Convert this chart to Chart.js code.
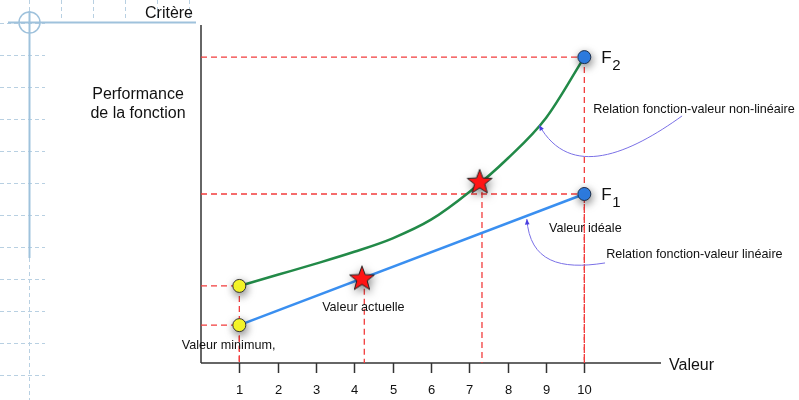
<!doctype html>
<html lang="fr">
<head>
  <meta charset="utf-8">
  <title>Performance de la fonction</title>
  <script src="https://cdn.jsdelivr.net/npm/chart.js"></script>
  <style>
    html, body { margin: 0; padding: 0; background: #fff; }
    #wrap { width: 799px; height: 400px; position: relative; }
  </style>
</head>
<body>
  <div id="wrap"><canvas id="chart" width="799" height="400"></canvas></div>
  <script>
    // --- data (y in arbitrary "performance" units 0..100) ---
    const xTicks = [1, 2, 3, 4, 5, 6, 7, 8, 9, 10];
    const greenX = [1, 2, 3, 4, 5, 6, 7, 8, 9, 10];
    const greenY = [22.8, 26.1, 29.4, 32.9, 36.9, 42.4, 50.6, 60.5, 72.5, 90.5];
    const blueX = [1, 10];
    const blueY = [11.2, 50];
    const minX = [1, 1];
    const minY = [22.8, 11.2];
    const idealX = [10, 10];
    const idealY = [90.5, 50];
    const starX = [4.2, 7.27];
    const starY = [25.0, 53.6];

    const FONT = '"Liberation Sans", Arial, Helvetica, sans-serif';
    const RED = '#f23c3c';

    function pts(xs, ys) { return xs.map((x, i) => ({ x: x, y: ys[i] })); }

    // filled star used as point style
    function makeStar() {
      const c = document.createElement('canvas');
      c.width = 30; c.height = 30;
      const g = c.getContext('2d');
      g.beginPath();
      for (let i = 0; i < 10; i++) {
        const r = i % 2 === 0 ? 13 : 5.4;
        const a = -Math.PI / 2 + i * Math.PI / 5;
        g.lineTo(15 + r * Math.cos(a), 15.5 + r * Math.sin(a));
      }
      g.closePath();
      g.fillStyle = '#ff1414';
      g.fill();
      g.lineWidth = 1;
      g.strokeStyle = '#222';
      g.stroke();
      return c;
    }

    // dashed guide lines built from the key points
    const guides = [];
    idealX.forEach((x, i) => {
      guides.push([{ x: 0, y: idealY[i] }, { x: x, y: idealY[i] }]);
      guides.push([{ x: x, y: idealY[i] }, { x: x, y: 0 }]);
    });
    minX.forEach((x, i) => {
      guides.push([{ x: 0, y: minY[i] }, { x: x, y: minY[i] }]);
      guides.push([{ x: x, y: minY[i] }, { x: x, y: 0 }]);
    });
    starX.forEach((x, i) => {
      guides.push([{ x: x + 0.06, y: starY[i] - 3 }, { x: x + 0.06, y: 0 }]);
    });

    const datasets = [
      {
        data: pts(starX, starY), pointStyle: makeStar(), pointRadius: 13,
        showLine: false, order: 0, shadow: true
      },
      {
        data: pts(idealX, idealY), pointRadius: 6.5, pointBackgroundColor: '#2f80e8',
        pointBorderColor: '#1d2f4a', pointBorderWidth: 1, showLine: false, order: 1, shadow: true
      },
      {
        data: pts(minX, minY), pointRadius: 6.5, pointBackgroundColor: '#ffff2a',
        pointBorderColor: '#333', pointBorderWidth: 1, showLine: false, order: 1, shadow: true
      },
      {
        data: pts(greenX, greenY), showLine: true, borderColor: '#228a48', borderWidth: 2.5,
        pointRadius: 0, cubicInterpolationMode: 'monotone', order: 2
      },
      {
        data: pts(blueX, blueY), showLine: true, borderColor: '#3a8ff0', borderWidth: 2.5,
        pointRadius: 0, order: 2
      }
    ];
    guides.forEach(g => datasets.push({
      data: g, showLine: true, borderColor: RED, borderWidth: 1.3, borderDash: [6, 4],
      pointRadius: 0, order: 3
    }));

    const texts = [
      { t: 'Valeur minimum,', x: -0.5, y: 5.3 },
      { t: 'Valeur actuelle', x: 3.16, y: 16.3 },
      { t: 'Valeur idéale', x: 9.08, y: 39.9 },
      { t: 'Relation fonction-valeur linéaire', x: 10.57, y: 32.0 },
      { t: 'Relation fonction-valeur non-linéaire', x: 10.23, y: 75.1 }
    ];
    const arrows = [
      [[12.55, 73.1], [11.19, 62.0], [9.63, 54.0], [8.82, 70.4]],
      [[10.54, 29.6], [9.37, 27.5], [8.58, 29.9], [8.50, 42.6]]
    ];

    const shadowPlugin = {
      id: 'shadow',
      beforeDatasetDraw(chart, args) {
        const ctx = chart.ctx;
        ctx.save();
        if (args.meta._dataset.shadow) {
          ctx.shadowColor = 'rgba(0,0,0,0.5)';
          ctx.shadowBlur = 8;
          ctx.shadowOffsetX = 1;
          ctx.shadowOffsetY = 3;
        }
      },
      afterDatasetDraw(chart) { chart.ctx.restore(); }
    };

    const decoPlugin = {
      id: 'deco',
      beforeDatasetsDraw(chart) {
        const ctx = chart.ctx;
        const xs = chart.scales.x, ys = chart.scales.y;
        ctx.save();
        // blueprint-like guides on the left
        ctx.strokeStyle = '#b8d0e2';
        ctx.lineWidth = 1;
        ctx.setLineDash([4, 3]);
        for (let y = 23; y < 400; y += 32) {
          ctx.beginPath(); ctx.moveTo(0, y + 0.5); ctx.lineTo(45, y + 0.5); ctx.stroke();
        }
        for (let x = 29; x < 200; x += 32) {
          ctx.beginPath(); ctx.moveTo(x + 0.5, 0); ctx.lineTo(x + 0.5, 20); ctx.stroke();
        }
        ctx.beginPath(); ctx.moveTo(29.5, 258); ctx.lineTo(29.5, 400); ctx.stroke();
        ctx.setLineDash([]);
        ctx.strokeStyle = '#9fc2dc';
        ctx.lineWidth = 2;
        ctx.beginPath(); ctx.moveTo(8, 22.5); ctx.lineTo(196, 22.5); ctx.stroke();
        ctx.beginPath(); ctx.moveTo(29.5, 11); ctx.lineTo(29.5, 258); ctx.stroke();
        ctx.lineWidth = 1.5;
        ctx.beginPath(); ctx.arc(29.5, 22.5, 10.5, 0, Math.PI * 2); ctx.stroke();

        // axes
        ctx.strokeStyle = '#666';
        ctx.lineWidth = 2;
        ctx.beginPath(); ctx.moveTo(xs.left, ys.top); ctx.lineTo(xs.left, ys.bottom); ctx.stroke();
        ctx.strokeStyle = '#333';
        ctx.lineWidth = 1.5;
        ctx.beginPath(); ctx.moveTo(xs.left, ys.bottom); ctx.lineTo(xs.right, ys.bottom); ctx.stroke();
        ctx.fillStyle = '#111';
        ctx.font = '13px ' + FONT;
        ctx.textAlign = 'center';
        ctx.textBaseline = 'middle';
        xTicks.forEach(v => {
          const px = Math.round(xs.getPixelForValue(v)) + 0.5;
          ctx.beginPath(); ctx.moveTo(px, ys.bottom); ctx.lineTo(px, ys.bottom + 10); ctx.stroke();
          ctx.fillText(String(v), px, ys.bottom + 27);
        });
        ctx.restore();
      },
      afterDatasetsDraw(chart) {
        const ctx = chart.ctx;
        const xs = chart.scales.x, ys = chart.scales.y;
        const P = (a) => [xs.getPixelForValue(a[0]), ys.getPixelForValue(a[1])];
        ctx.save();
        ctx.fillStyle = '#111';
        ctx.textBaseline = 'middle';
        // axis titles
        ctx.font = '16px ' + FONT;
        ctx.textAlign = 'right';
        ctx.fillText('Critère', xs.left - 8, 14);
        ctx.textAlign = 'center';
        ctx.fillText('Performance', 138, 95);
        ctx.fillText('de la fonction', 138, 114);
        ctx.textAlign = 'left';
        ctx.fillText('Valeur', xs.right + 8, ys.bottom + 3);
        // F labels
        idealX.forEach((x, i) => {
          const px = xs.getPixelForValue(x) + 17, py = ys.getPixelForValue(idealY[i]) + 1;
          ctx.font = '17px ' + FONT;
          ctx.fillText('F', px, py);
          ctx.font = '15px ' + FONT;
          ctx.fillText(String(i === 0 ? 2 : 1), px + 11, py + 8);
        });
        // annotations
        ctx.font = '12.6px ' + FONT;
        texts.forEach(o => ctx.fillText(o.t, xs.getPixelForValue(o.x), ys.getPixelForValue(o.y)));
        // curved arrows
        ctx.strokeStyle = '#7a70e6';
        ctx.fillStyle = '#4a3fe0';
        ctx.lineWidth = 1;
        arrows.forEach(a => {
          const p = a.map(P);
          ctx.beginPath();
          ctx.moveTo(p[0][0], p[0][1]);
          ctx.bezierCurveTo(p[1][0], p[1][1], p[2][0], p[2][1], p[3][0], p[3][1]);
          ctx.stroke();
          const ang = Math.atan2(p[3][1] - p[2][1], p[3][0] - p[2][0]);
          ctx.beginPath();
          ctx.moveTo(p[3][0], p[3][1]);
          ctx.lineTo(p[3][0] - 6 * Math.cos(ang - 0.4), p[3][1] - 6 * Math.sin(ang - 0.4));
          ctx.lineTo(p[3][0] - 6 * Math.cos(ang + 0.4), p[3][1] - 6 * Math.sin(ang + 0.4));
          ctx.closePath();
          ctx.fill();
        });
        ctx.restore();
      }
    };

    new Chart(document.getElementById('chart'), {
      type: 'scatter',
      data: { datasets: datasets },
      options: {
        responsive: false,
        animation: false,
        layout: { padding: { left: 201, right: 138, top: 25, bottom: 37 } },
        plugins: { legend: { display: false }, tooltip: { enabled: false } },
        scales: {
          x: { type: 'linear', min: 0, max: 12, display: false },
          y: { type: 'linear', min: 0, max: 100, display: false }
        },
        clip: false
      },
      plugins: [shadowPlugin, decoPlugin]
    });
  </script>
</body>
</html>
